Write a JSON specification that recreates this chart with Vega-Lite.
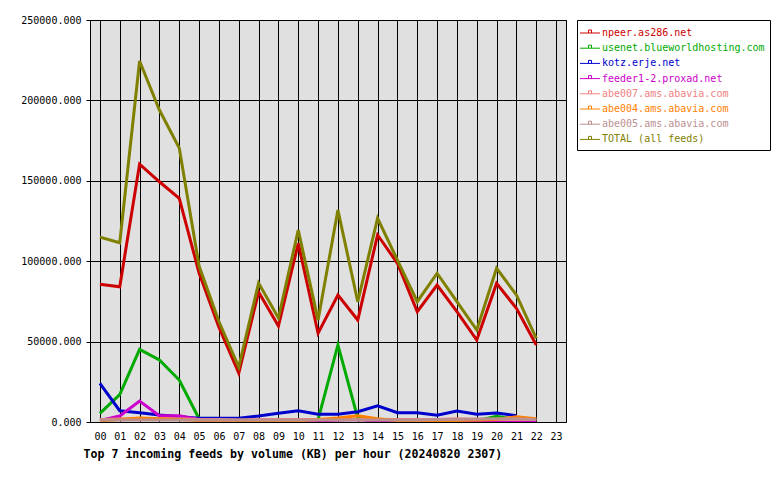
{
  "$schema": "https://vega.github.io/schema/vega-lite/v6.json",
  "width": 476,
  "height": 402,
  "autosize": {"type": "none"},
  "padding": {"left": 90, "top": 20, "right": 214, "bottom": 58},
  "background": "white",
  "config": {
    "view": {"fill": "#e0e0e0", "stroke": "black", "strokeWidth": 1},
    "font": "DejaVu Sans Mono",
    "axis": {"labelFont": "DejaVu Sans Mono", "labelFontSize": 10, "labelColor": "black", "gridColor": "black", "gridOpacity": 1, "gridWidth": 1, "domainColor": "black", "tickColor": "black"}
  },
  "data": {"values": [
    {"hour":0,"feed":"npeer.as286.net","kb":85600},{"hour":1,"feed":"npeer.as286.net","kb":84100},{"hour":2,"feed":"npeer.as286.net","kb":160400},{"hour":3,"feed":"npeer.as286.net","kb":149400},{"hour":4,"feed":"npeer.as286.net","kb":139100},{"hour":5,"feed":"npeer.as286.net","kb":92700},{"hour":6,"feed":"npeer.as286.net","kb":59000},{"hour":7,"feed":"npeer.as286.net","kb":30500},{"hour":8,"feed":"npeer.as286.net","kb":80800},{"hour":9,"feed":"npeer.as286.net","kb":59700},{"hour":10,"feed":"npeer.as286.net","kb":111100},{"hour":11,"feed":"npeer.as286.net","kb":55200},{"hour":12,"feed":"npeer.as286.net","kb":79000},{"hour":13,"feed":"npeer.as286.net","kb":63400},{"hour":14,"feed":"npeer.as286.net","kb":116300},{"hour":15,"feed":"npeer.as286.net","kb":98700},{"hour":16,"feed":"npeer.as286.net","kb":68600},{"hour":17,"feed":"npeer.as286.net","kb":85200},{"hour":18,"feed":"npeer.as286.net","kb":68600},{"hour":19,"feed":"npeer.as286.net","kb":51000},{"hour":20,"feed":"npeer.as286.net","kb":86200},{"hour":21,"feed":"npeer.as286.net","kb":70700},{"hour":22,"feed":"npeer.as286.net","kb":47900},
    {"hour":0,"feed":"usenet.blueworldhosting.com","kb":5400},{"hour":1,"feed":"usenet.blueworldhosting.com","kb":17000},{"hour":2,"feed":"usenet.blueworldhosting.com","kb":45200},{"hour":3,"feed":"usenet.blueworldhosting.com","kb":38600},{"hour":4,"feed":"usenet.blueworldhosting.com","kb":26100},{"hour":5,"feed":"usenet.blueworldhosting.com","kb":2000},{"hour":6,"feed":"usenet.blueworldhosting.com","kb":500},{"hour":7,"feed":"usenet.blueworldhosting.com","kb":300},{"hour":8,"feed":"usenet.blueworldhosting.com","kb":300},{"hour":9,"feed":"usenet.blueworldhosting.com","kb":300},{"hour":10,"feed":"usenet.blueworldhosting.com","kb":300},{"hour":11,"feed":"usenet.blueworldhosting.com","kb":1500},{"hour":12,"feed":"usenet.blueworldhosting.com","kb":47900},{"hour":13,"feed":"usenet.blueworldhosting.com","kb":2500},{"hour":14,"feed":"usenet.blueworldhosting.com","kb":1500},{"hour":15,"feed":"usenet.blueworldhosting.com","kb":500},{"hour":16,"feed":"usenet.blueworldhosting.com","kb":500},{"hour":17,"feed":"usenet.blueworldhosting.com","kb":500},{"hour":18,"feed":"usenet.blueworldhosting.com","kb":500},{"hour":19,"feed":"usenet.blueworldhosting.com","kb":800},{"hour":20,"feed":"usenet.blueworldhosting.com","kb":3500},{"hour":21,"feed":"usenet.blueworldhosting.com","kb":1500},{"hour":22,"feed":"usenet.blueworldhosting.com","kb":500},
    {"hour":0,"feed":"kotz.erje.net","kb":24000},{"hour":1,"feed":"kotz.erje.net","kb":7000},{"hour":2,"feed":"kotz.erje.net","kb":5800},{"hour":3,"feed":"kotz.erje.net","kb":4400},{"hour":4,"feed":"kotz.erje.net","kb":3300},{"hour":5,"feed":"kotz.erje.net","kb":2300},{"hour":6,"feed":"kotz.erje.net","kb":2300},{"hour":7,"feed":"kotz.erje.net","kb":2300},{"hour":8,"feed":"kotz.erje.net","kb":3700},{"hour":9,"feed":"kotz.erje.net","kb":5400},{"hour":10,"feed":"kotz.erje.net","kb":7000},{"hour":11,"feed":"kotz.erje.net","kb":4800},{"hour":12,"feed":"kotz.erje.net","kb":4800},{"hour":13,"feed":"kotz.erje.net","kb":6400},{"hour":14,"feed":"kotz.erje.net","kb":10000},{"hour":15,"feed":"kotz.erje.net","kb":5800},{"hour":16,"feed":"kotz.erje.net","kb":5800},{"hour":17,"feed":"kotz.erje.net","kb":4200},{"hour":18,"feed":"kotz.erje.net","kb":6800},{"hour":19,"feed":"kotz.erje.net","kb":4800},{"hour":20,"feed":"kotz.erje.net","kb":5600},{"hour":21,"feed":"kotz.erje.net","kb":3900},
    {"hour":0,"feed":"feeder1-2.proxad.net","kb":1000},{"hour":1,"feed":"feeder1-2.proxad.net","kb":3700},{"hour":2,"feed":"feeder1-2.proxad.net","kb":13000},{"hour":3,"feed":"feeder1-2.proxad.net","kb":3900},{"hour":4,"feed":"feeder1-2.proxad.net","kb":3900},{"hour":5,"feed":"feeder1-2.proxad.net","kb":1500},{"hour":6,"feed":"feeder1-2.proxad.net","kb":800},{"hour":7,"feed":"feeder1-2.proxad.net","kb":500},{"hour":8,"feed":"feeder1-2.proxad.net","kb":500},{"hour":9,"feed":"feeder1-2.proxad.net","kb":500},{"hour":10,"feed":"feeder1-2.proxad.net","kb":500},{"hour":11,"feed":"feeder1-2.proxad.net","kb":500},{"hour":12,"feed":"feeder1-2.proxad.net","kb":1200},{"hour":13,"feed":"feeder1-2.proxad.net","kb":1500},{"hour":14,"feed":"feeder1-2.proxad.net","kb":500},{"hour":15,"feed":"feeder1-2.proxad.net","kb":500},{"hour":16,"feed":"feeder1-2.proxad.net","kb":500},{"hour":17,"feed":"feeder1-2.proxad.net","kb":800},{"hour":18,"feed":"feeder1-2.proxad.net","kb":500},{"hour":19,"feed":"feeder1-2.proxad.net","kb":500},{"hour":20,"feed":"feeder1-2.proxad.net","kb":500},{"hour":21,"feed":"feeder1-2.proxad.net","kb":800},{"hour":22,"feed":"feeder1-2.proxad.net","kb":500},
    {"hour":0,"feed":"abe007.ams.abavia.com","kb":1500},{"hour":1,"feed":"abe007.ams.abavia.com","kb":1800},{"hour":2,"feed":"abe007.ams.abavia.com","kb":2000},{"hour":3,"feed":"abe007.ams.abavia.com","kb":2000},{"hour":4,"feed":"abe007.ams.abavia.com","kb":2000},{"hour":5,"feed":"abe007.ams.abavia.com","kb":1500},{"hour":6,"feed":"abe007.ams.abavia.com","kb":1500},{"hour":7,"feed":"abe007.ams.abavia.com","kb":1200},{"hour":8,"feed":"abe007.ams.abavia.com","kb":1500},{"hour":9,"feed":"abe007.ams.abavia.com","kb":1500},{"hour":10,"feed":"abe007.ams.abavia.com","kb":1500},{"hour":11,"feed":"abe007.ams.abavia.com","kb":1500},{"hour":12,"feed":"abe007.ams.abavia.com","kb":1500},{"hour":13,"feed":"abe007.ams.abavia.com","kb":1500},{"hour":14,"feed":"abe007.ams.abavia.com","kb":1500},{"hour":15,"feed":"abe007.ams.abavia.com","kb":1500},{"hour":16,"feed":"abe007.ams.abavia.com","kb":1500},{"hour":17,"feed":"abe007.ams.abavia.com","kb":1500},{"hour":18,"feed":"abe007.ams.abavia.com","kb":2000},{"hour":19,"feed":"abe007.ams.abavia.com","kb":1500},{"hour":20,"feed":"abe007.ams.abavia.com","kb":1500},{"hour":21,"feed":"abe007.ams.abavia.com","kb":1500},{"hour":22,"feed":"abe007.ams.abavia.com","kb":1500},
    {"hour":0,"feed":"abe004.ams.abavia.com","kb":500},{"hour":1,"feed":"abe004.ams.abavia.com","kb":1500},{"hour":2,"feed":"abe004.ams.abavia.com","kb":2500},{"hour":3,"feed":"abe004.ams.abavia.com","kb":2000},{"hour":4,"feed":"abe004.ams.abavia.com","kb":1500},{"hour":5,"feed":"abe004.ams.abavia.com","kb":800},{"hour":6,"feed":"abe004.ams.abavia.com","kb":800},{"hour":7,"feed":"abe004.ams.abavia.com","kb":500},{"hour":8,"feed":"abe004.ams.abavia.com","kb":500},{"hour":9,"feed":"abe004.ams.abavia.com","kb":800},{"hour":10,"feed":"abe004.ams.abavia.com","kb":800},{"hour":11,"feed":"abe004.ams.abavia.com","kb":1500},{"hour":12,"feed":"abe004.ams.abavia.com","kb":2500},{"hour":13,"feed":"abe004.ams.abavia.com","kb":3900},{"hour":14,"feed":"abe004.ams.abavia.com","kb":2000},{"hour":15,"feed":"abe004.ams.abavia.com","kb":1000},{"hour":16,"feed":"abe004.ams.abavia.com","kb":800},{"hour":17,"feed":"abe004.ams.abavia.com","kb":800},{"hour":18,"feed":"abe004.ams.abavia.com","kb":1000},{"hour":19,"feed":"abe004.ams.abavia.com","kb":1200},{"hour":20,"feed":"abe004.ams.abavia.com","kb":1500},{"hour":21,"feed":"abe004.ams.abavia.com","kb":3300},{"hour":22,"feed":"abe004.ams.abavia.com","kb":2000},
    {"hour":0,"feed":"abe005.ams.abavia.com","kb":1200},{"hour":1,"feed":"abe005.ams.abavia.com","kb":1200},{"hour":2,"feed":"abe005.ams.abavia.com","kb":1200},{"hour":3,"feed":"abe005.ams.abavia.com","kb":1200},{"hour":4,"feed":"abe005.ams.abavia.com","kb":1200},{"hour":5,"feed":"abe005.ams.abavia.com","kb":1200},{"hour":6,"feed":"abe005.ams.abavia.com","kb":1200},{"hour":7,"feed":"abe005.ams.abavia.com","kb":1200},{"hour":8,"feed":"abe005.ams.abavia.com","kb":1200},{"hour":9,"feed":"abe005.ams.abavia.com","kb":1200},{"hour":10,"feed":"abe005.ams.abavia.com","kb":1200},{"hour":11,"feed":"abe005.ams.abavia.com","kb":1200},{"hour":12,"feed":"abe005.ams.abavia.com","kb":1200},{"hour":13,"feed":"abe005.ams.abavia.com","kb":1200},{"hour":14,"feed":"abe005.ams.abavia.com","kb":1200},{"hour":15,"feed":"abe005.ams.abavia.com","kb":1200},{"hour":16,"feed":"abe005.ams.abavia.com","kb":1200},{"hour":17,"feed":"abe005.ams.abavia.com","kb":1500},{"hour":18,"feed":"abe005.ams.abavia.com","kb":1500},{"hour":19,"feed":"abe005.ams.abavia.com","kb":1800},{"hour":20,"feed":"abe005.ams.abavia.com","kb":2000},{"hour":21,"feed":"abe005.ams.abavia.com","kb":2000},{"hour":22,"feed":"abe005.ams.abavia.com","kb":1500},
    {"hour":0,"feed":"TOTAL (all feeds)","kb":115000},{"hour":1,"feed":"TOTAL (all feeds)","kb":111500},{"hour":2,"feed":"TOTAL (all feeds)","kb":224500},{"hour":3,"feed":"TOTAL (all feeds)","kb":194000},{"hour":4,"feed":"TOTAL (all feeds)","kb":170400},{"hour":5,"feed":"TOTAL (all feeds)","kb":97000},{"hour":6,"feed":"TOTAL (all feeds)","kb":62500},{"hour":7,"feed":"TOTAL (all feeds)","kb":34200},{"hour":8,"feed":"TOTAL (all feeds)","kb":86400},{"hour":9,"feed":"TOTAL (all feeds)","kb":64700},{"hour":10,"feed":"TOTAL (all feeds)","kb":119400},{"hour":11,"feed":"TOTAL (all feeds)","kb":63400},{"hour":12,"feed":"TOTAL (all feeds)","kb":131800},{"hour":13,"feed":"TOTAL (all feeds)","kb":74800},{"hour":14,"feed":"TOTAL (all feeds)","kb":126700},{"hour":15,"feed":"TOTAL (all feeds)","kb":100700},{"hour":16,"feed":"TOTAL (all feeds)","kb":74800},{"hour":17,"feed":"TOTAL (all feeds)","kb":92500},{"hour":18,"feed":"TOTAL (all feeds)","kb":74800},{"hour":19,"feed":"TOTAL (all feeds)","kb":57200},{"hour":20,"feed":"TOTAL (all feeds)","kb":95600},{"hour":21,"feed":"TOTAL (all feeds)","kb":79000},{"hour":22,"feed":"TOTAL (all feeds)","kb":52000}
  ]},
  "mark": {"type": "line", "strokeWidth": 3, "clip": true},
  "encoding": {
    "x": {
      "field": "hour", "type": "quantitative",
      "scale": {"domain": [-0.5, 23.5], "nice": false, "zero": false},
      "axis": {
        "values": [0,1,2,3,4,5,6,7,8,9,10,11,12,13,14,15,16,17,18,19,20,21,22,23],
        "labelExpr": "datum.value < 10 ? '0' + datum.value : '' + datum.value",
        "grid": true, "ticks": false, "domain": false, "labelPadding": 9, "labelFlush": false,
        "title": "Top 7 incoming feeds by volume (KB) per hour (20240820 2307)",
        "titleFont": "DejaVu Sans Mono", "titleFontWeight": "bold", "titleFontSize": 11.6,
        "titleAnchor": "start", "titleAlign": "left", "titleX": -7, "titleY": 35, "titleBaseline": "alphabetic", "titleColor": "black"
      }
    },
    "y": {
      "field": "kb", "type": "quantitative",
      "scale": {"domain": [0, 250000], "nice": false},
      "axis": {
        "values": [0, 50000, 100000, 150000, 200000, 250000],
        "format": ".3f", "grid": true, "tickSize": 4, "labelPadding": 5, "title": null, "domain": false
      }
    },
    "color": {
      "field": "feed", "type": "nominal",
      "sort": ["npeer.as286.net", "usenet.blueworldhosting.com", "kotz.erje.net", "feeder1-2.proxad.net", "abe007.ams.abavia.com", "abe004.ams.abavia.com", "abe005.ams.abavia.com", "TOTAL (all feeds)"],
      "scale": {
        "domain": ["npeer.as286.net", "usenet.blueworldhosting.com", "kotz.erje.net", "feeder1-2.proxad.net", "abe007.ams.abavia.com", "abe004.ams.abavia.com", "abe005.ams.abavia.com", "TOTAL (all feeds)"],
        "range": ["#cc0000", "#00aa00", "#0000cc", "#cc00cc", "#f08080", "#ff8000", "#bc8f8f", "#808000"]
      },
      "legend": {
        "title": null, "orient": "none", "legendX": 487, "legendY": 0,
        "direction": "vertical",
        "fillColor": "white", "strokeColor": "black", "padding": 5,
        "labelFont": "DejaVu Sans Mono", "labelFontSize": 10, "labelLimit": 300,
        "symbolType": "M-1.33,0H1.33M-0.2,0V-0.4H0.2V0", "symbolSize": 225, "symbolStrokeWidth": 1,
        "rowPadding": 2.2, "labelOffset": 4,
        "encode": {"labels": {"update": {"fill": {"scale": "color", "field": "value"}}}}
      }
    }
  }
}
